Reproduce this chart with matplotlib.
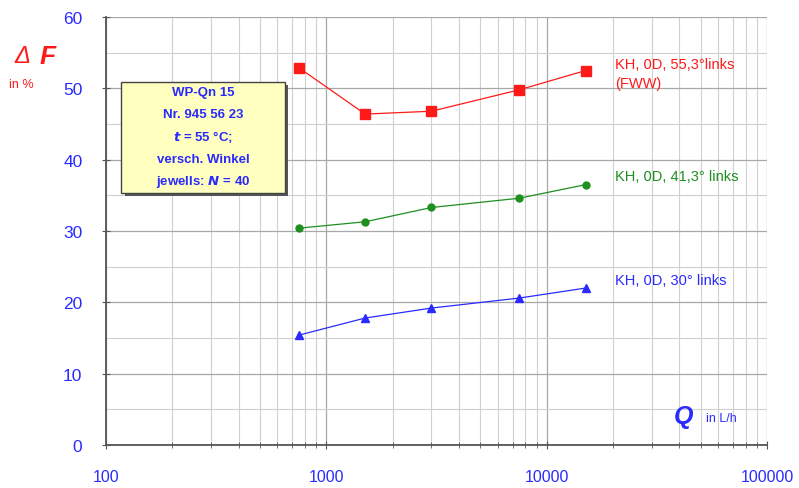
import matplotlib
matplotlib.use("Agg")
import matplotlib.pyplot as plt
from matplotlib.patches import FancyBboxPatch
from matplotlib.ticker import LogLocator, FixedLocator, NullFormatter

plt.rcParams['font.family'] = ['Liberation Sans', 'DejaVu Sans']

# Durchfluss Q in L/h
q = [750, 1500, 3000, 7500, 15000]

# Fehler Delta F in % je Einbauwinkel
f_553 = [52.9, 46.4, 46.8, 49.8, 52.5]
f_413 = [30.4, 31.3, 33.3, 34.6, 36.5]
f_30 = [15.4, 17.8, 19.2, 20.6, 22.0]

lab_553 = "KH, 0D, 55,3°links\n(FWW)"
lab_413 = "KH, 0D, 41,3° links"
lab_30 = "KH, 0D, 30° links"

x_ticks = [100, 1000, 10000, 100000]
y_ticks = [0, 10, 20, 30, 40, 50, 60]

blau = "#2a2aff"
rot = "#ff1a1a"
gruen = "#1f8f1f"

fig = plt.figure(figsize=(7.99, 4.89), dpi=100)
ax = fig.add_axes([0.1327, 0.088, 0.8273, 0.875])

ax.set_xscale("log")
ax.set_xlim(100, 100000)
ax.set_ylim(0, 60)

ax.xaxis.set_major_locator(FixedLocator(x_ticks))
ax.xaxis.set_minor_locator(LogLocator(base=10, subs=range(2, 10)))
ax.xaxis.set_minor_formatter(NullFormatter())
ax.set_xticklabels([str(v) for v in x_ticks])
ax.yaxis.set_major_locator(FixedLocator(y_ticks))
ax.yaxis.set_minor_locator(FixedLocator([5, 15, 25, 35, 45, 55]))

ax.grid(True, which="major", color="#a8a8a8", lw=0.9)
ax.grid(True, which="minor", color="#d0d0d0", lw=0.8)
ax.set_axisbelow(True)

for s in ["top", "right"]:
    ax.spines[s].set_visible(False)
for s in ["left", "bottom"]:
    ax.spines[s].set_color("#555555")
    ax.spines[s].set_linewidth(1.3)

ax.tick_params(axis="both", which="both", direction="inout", color="#555555")
ax.tick_params(axis="x", which="major", length=6, labelsize=11.5, labelcolor=blau, pad=14)
ax.tick_params(axis="x", which="minor", length=4)
ax.tick_params(axis="y", which="major", length=6, labelsize=12.5, labelcolor=blau, pad=14)
ax.tick_params(axis="y", which="minor", length=0)

ax.plot(q, f_553, "-", color=rot, lw=0.9, marker="s", ms=7, mfc=rot, mec=rot)
ax.plot(q, f_413, "-", color=gruen, lw=0.9, marker="o", ms=5, mfc=gruen, mec=gruen)
ax.plot(q, f_30, "-", color=blau, lw=0.9, marker="^", ms=6, mfc=blau, mec=blau)

ax.text(20500, f_553[-1] + 1.9, lab_553, color=rot, fontsize=10.5, va="top",
        linespacing=1.45)
ax.text(20500, f_413[-1] + 1.2, lab_413, color=gruen, fontsize=10.5, va="center")
ax.text(20500, f_30[-1] + 1.2, lab_30, color=blau, fontsize=10.5, va="center")

# Achsbeschriftungen
fig.text(0.018, 0.884, "Δ", color=rot, fontsize=17, style="italic", va="center")
fig.text(0.050, 0.884, "F", color=rot, fontsize=19, style="italic", weight="bold", va="center")
fig.text(0.011, 0.826, "in %", color=rot, fontsize=9, va="center")
fig.text(0.843, 0.148, "Q", color=blau, fontsize=18, style="italic", weight="bold", va="center")
fig.text(0.883, 0.143, "in L/h", color=blau, fontsize=9, va="center")

# Infobox
shadow = FancyBboxPatch((0.156, 0.597), 0.205, 0.228, boxstyle="square,pad=0",
                        transform=fig.transFigure, facecolor="#555555",
                        edgecolor="none", zorder=5)
box = FancyBboxPatch((0.152, 0.603), 0.205, 0.228, boxstyle="square,pad=0",
                     transform=fig.transFigure, facecolor="#ffffc0",
                     edgecolor="#444444", lw=1.0, zorder=6)
fig.patches.extend([shadow, box])
lines = ["WP-Qn 15", "Nr. 945 56 23", "$\\mathbfit{t}$ = 55 °C;", "versch. Winkel",
         "jewells: $\\mathbfit{N}$ = 40"]
for i, line in enumerate(lines):
    fig.text(0.2545, 0.81 - i * 0.0455, line, color=blau, fontsize=9.5, weight="bold",
             ha="center", va="center", zorder=7)

fig.savefig("out.png", dpi=100)
